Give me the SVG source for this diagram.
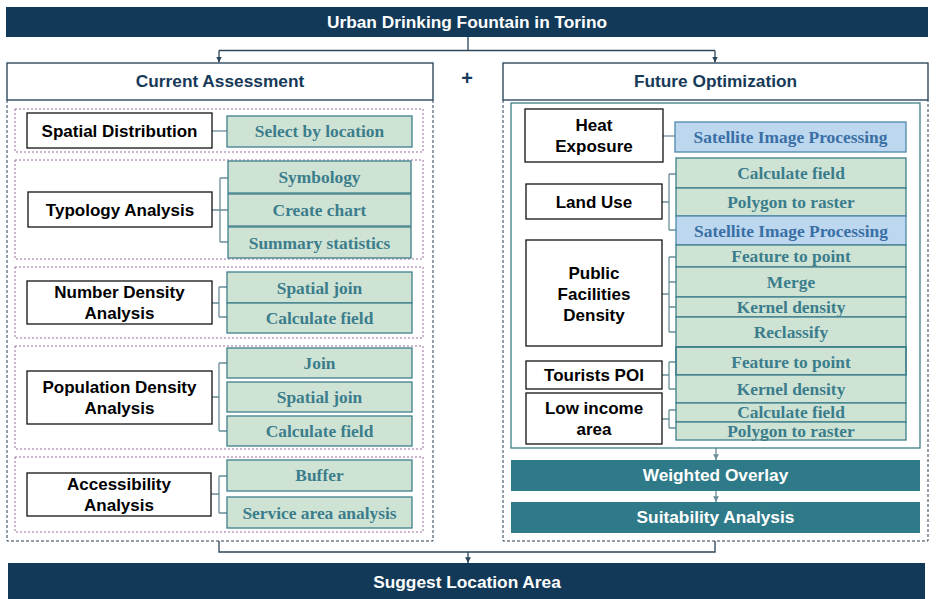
<svg xmlns="http://www.w3.org/2000/svg" width="938" height="599" viewBox="0 0 938 599">
<defs>
<style>
.banner{fill:#123a58}
.bt{font-family:"Liberation Sans",Arial,sans-serif;font-weight:bold;font-size:17.3px;fill:#ffffff;text-anchor:middle}
.hdr{fill:#ffffff;stroke:#1e3d55;stroke-width:1.3}
.ht{font-family:"Liberation Sans",Arial,sans-serif;font-weight:bold;font-size:17.3px;fill:#163a58;text-anchor:middle}
.dash{fill:none;stroke:#2a3f52;stroke-width:1;stroke-dasharray:3 2}
.grp{fill:none;stroke:#9a6a9e;stroke-width:1;stroke-dasharray:2 2}
.node{fill:#ffffff;stroke:#111111;stroke-width:1.3}
.nt{font-family:"Liberation Sans",Arial,sans-serif;font-weight:bold;font-size:17px;fill:#000000;text-anchor:middle}
.tool{fill:#cfe3d5;stroke:#3e7f8b;stroke-width:1.3}
.sat{fill:#bcd7ee;stroke:#4f88ad;stroke-width:1.3}
.tt{font-family:"Liberation Serif","Times New Roman",serif;font-weight:bold;font-size:17.4px;fill:#3b7d8b;text-anchor:middle}
.st{font-family:"Liberation Serif","Times New Roman",serif;font-weight:bold;font-size:17.4px;fill:#3a6fa6;text-anchor:middle}
.bar{fill:#2f7a89}
.inner{fill:none;stroke:#3d7f8a;stroke-width:1.3}
.br{fill:none;stroke:#6a8e98;stroke-width:1.3}
.con{fill:none;stroke:#2c4658;stroke-width:1.3}
</style>
<marker id="ah" viewBox="0 0 10 10" refX="10" refY="5" markerWidth="4.5" markerHeight="4.5" orient="auto">
<path d="M0,0 L10,5 L0,10 z" fill="#2c4658"/>
</marker>
<marker id="ah2" viewBox="0 0 10 10" refX="10" refY="5" markerWidth="4.5" markerHeight="4.5" orient="auto">
<path d="M0,0 L10,5 L0,10 z" fill="#6a8e98"/>
</marker>
</defs>
<rect width="938" height="599" fill="#ffffff"/>

<g id="title">
<rect class="banner" x="6" y="7" width="922" height="30"/>
<text class="bt" x="467" y="28">Urban Drinking Fountain in Torino</text>
</g>

<g id="connectors">
<path class="con" d="M468,37 V50.5 M219,50.5 H715" />
<path class="con" d="M219,50.5 V62.5" marker-end="url(#ah)"/>
<path class="con" d="M715,50.5 V62.5" marker-end="url(#ah)"/>
<path class="con" d="M219,541 V552 H715 V541"/>
<path class="con" d="M468,552 V563" marker-end="url(#ah)"/>
<path class="br" d="M716,448 V460" marker-end="url(#ah2)"/>
<path class="br" d="M716,491 V502" marker-end="url(#ah2)"/>
<path class="br" d="M212,131 H227"/>
<path class="br" d="M212,210 H220 M220,178 V242 M220,178 H228 M220,210 H228 M220,242 H228"/>
<path class="br" d="M212,303 H219 M219,287 V317 M219,287 H227 M219,317 H227"/>
<path class="br" d="M212,397 H219 M219,363 V431 M219,363 H227 M219,431 H227"/>
<path class="br" d="M211,494 H219 M219,476 V513 M219,476 H227 M219,513 H227"/>
<path class="br" d="M663,136 H675"/>
<path class="br" d="M662,202 H669 M669,174 V230 M669,174 H676 M669,230 H676"/>
<path class="br" d="M662,294 H669 M669,257 V332 M669,257 H676 M669,282 H676 M669,307 H676 M669,332 H676"/>
<path class="br" d="M662,375 H669 M669,362 V389 M669,362 H676 M669,389 H676"/>
<path class="br" d="M662,419 H669 M669,410 V428 M669,410 H676 M669,428 H676"/>
</g>

<text x="467" y="85" font-family="Liberation Sans,Arial,sans-serif" font-weight="bold" font-size="20" fill="#163a58" text-anchor="middle">+</text>

<g id="current-assessment">
<rect class="hdr" x="7" y="63" width="426" height="37"/>
<text class="ht" x="220" y="87">Current Assessment</text>
<path class="dash" d="M7,100 V541 H433 V100"/>
</g>

<g id="spatial-distribution">
<rect class="grp" x="15" y="109" width="408" height="43"/>
<rect class="node" x="27" y="113" width="185" height="35"/>
<text class="nt" x="119.5" y="137">Spatial Distribution</text>
<rect class="tool" x="227" y="116" width="185" height="31"/>
<text class="tt" x="319.5" y="137">Select by location</text>
</g>

<g id="typology-analysis">
<rect class="grp" x="15" y="160" width="408" height="99"/>
<rect class="node" x="28" y="192" width="184" height="35"/>
<text class="nt" x="120" y="216">Typology Analysis</text>
<rect class="tool" x="228" y="161" width="183" height="32"/>
<text class="tt" x="319.5" y="183">Symbology</text>
<rect class="tool" x="228" y="194" width="183" height="32"/>
<text class="tt" x="319.5" y="216">Create chart</text>
<rect class="tool" x="228" y="227" width="183" height="31"/>
<text class="tt" x="319.5" y="249">Summary statistics</text>
</g>

<g id="number-density">
<rect class="grp" x="15" y="267" width="408" height="71"/>
<rect class="node" x="27" y="281" width="185" height="43"/>
<text class="nt" x="119.5" y="298">Number Density</text>
<text class="nt" x="119.5" y="319">Analysis</text>
<rect class="tool" x="227" y="272" width="185" height="31"/>
<text class="tt" x="319.5" y="294">Spatial join</text>
<rect class="tool" x="227" y="303" width="185" height="30"/>
<text class="tt" x="319.5" y="324">Calculate field</text>
</g>

<g id="population-density">
<rect class="grp" x="15" y="346" width="408" height="103"/>
<rect class="node" x="27" y="371" width="185" height="53"/>
<text class="nt" x="119.5" y="393">Population Density</text>
<text class="nt" x="119.5" y="414">Analysis</text>
<rect class="tool" x="227" y="348" width="185" height="30"/>
<text class="tt" x="319.5" y="369">Join</text>
<rect class="tool" x="227" y="382" width="185" height="30"/>
<text class="tt" x="319.5" y="403">Spatial join</text>
<rect class="tool" x="227" y="416" width="185" height="30"/>
<text class="tt" x="319.5" y="437">Calculate field</text>
</g>

<g id="accessibility">
<rect class="grp" x="15" y="457" width="408" height="75"/>
<rect class="node" x="27" y="473" width="184" height="43"/>
<text class="nt" x="119" y="490">Accessibility</text>
<text class="nt" x="119" y="511">Analysis</text>
<rect class="tool" x="227" y="460" width="185" height="31"/>
<text class="tt" x="319.5" y="481">Buffer</text>
<rect class="tool" x="227" y="497" width="185" height="31"/>
<text class="tt" x="319.5" y="519">Service area analysis</text>
</g>

<g id="future-optimization">
<rect class="hdr" x="503" y="63" width="425" height="37"/>
<text class="ht" x="715.5" y="87">Future Optimization</text>
<path class="dash" d="M503,100 V541 H928 V100"/>
<rect class="inner" x="511" y="103" width="409" height="345"/>
</g>

<g id="heat-exposure">
<rect class="node" x="525" y="109" width="138" height="53"/>
<text class="nt" x="594" y="131">Heat</text>
<text class="nt" x="594" y="152">Exposure</text>
<rect class="sat" x="675" y="122" width="231" height="30"/>
<text class="st" x="790.5" y="143">Satellite Image Processing</text>
</g>

<g id="land-use">
<rect class="node" x="526" y="184" width="136" height="35"/>
<text class="nt" x="594" y="208">Land Use</text>
<rect class="tool" x="676" y="158" width="230" height="30"/>
<text class="tt" x="791" y="179">Calculate field</text>
<rect class="tool" x="676" y="188" width="230" height="28"/>
<text class="tt" x="791" y="208">Polygon to raster</text>
<rect class="sat" x="676" y="216" width="230" height="29"/>
<text class="st" x="791" y="237">Satellite Image Processing</text>
</g>

<g id="public-facilities">
<rect class="node" x="526" y="240" width="136" height="106"/>
<text class="nt" x="594" y="279">Public</text>
<text class="nt" x="594" y="300">Facilities</text>
<text class="nt" x="594" y="321">Density</text>
<rect class="tool" x="676" y="245" width="230" height="22"/>
<text class="tt" x="791" y="262">Feature to point</text>
<rect class="tool" x="676" y="267" width="230" height="30"/>
<text class="tt" x="791" y="288">Merge</text>
<rect class="tool" x="676" y="297" width="230" height="20"/>
<text class="tt" x="791" y="313">Kernel density</text>
<rect class="tool" x="676" y="317" width="230" height="30"/>
<text class="tt" x="791" y="338">Reclassify</text>
</g>

<g id="tourists-poi">
<rect class="node" x="526" y="361" width="136" height="28"/>
<text class="nt" x="594" y="381">Tourists POI</text>
<rect class="tool" x="676" y="347" width="230" height="28" style="stroke-width:1.8"/>
<text class="tt" x="791" y="368">Feature to point</text>
<rect class="tool" x="676" y="375" width="230" height="28"/>
<text class="tt" x="791" y="395">Kernel density</text>
</g>

<g id="low-income">
<rect class="node" x="526" y="393" width="136" height="51"/>
<text class="nt" x="594" y="414">Low income</text>
<text class="nt" x="594" y="435">area</text>
<rect class="tool" x="676" y="403" width="230" height="19"/>
<text class="tt" x="791" y="418">Calculate field</text>
<rect class="tool" x="676" y="422" width="230" height="18"/>
<text class="tt" x="791" y="437">Polygon to raster</text>
</g>

<g id="weighted-overlay">
<rect class="bar" x="511" y="460" width="409" height="31"/>
<text class="bt" x="715.5" y="481">Weighted Overlay</text>
</g>

<g id="suitability">
<rect class="bar" x="511" y="502" width="409" height="31"/>
<text class="bt" x="715.5" y="523">Suitability Analysis</text>
</g>

<g id="suggest-location">
<rect class="banner" x="8" y="563" width="917" height="36"/>
<text class="bt" x="467" y="588">Suggest Location Area</text>
</g>
</svg>
